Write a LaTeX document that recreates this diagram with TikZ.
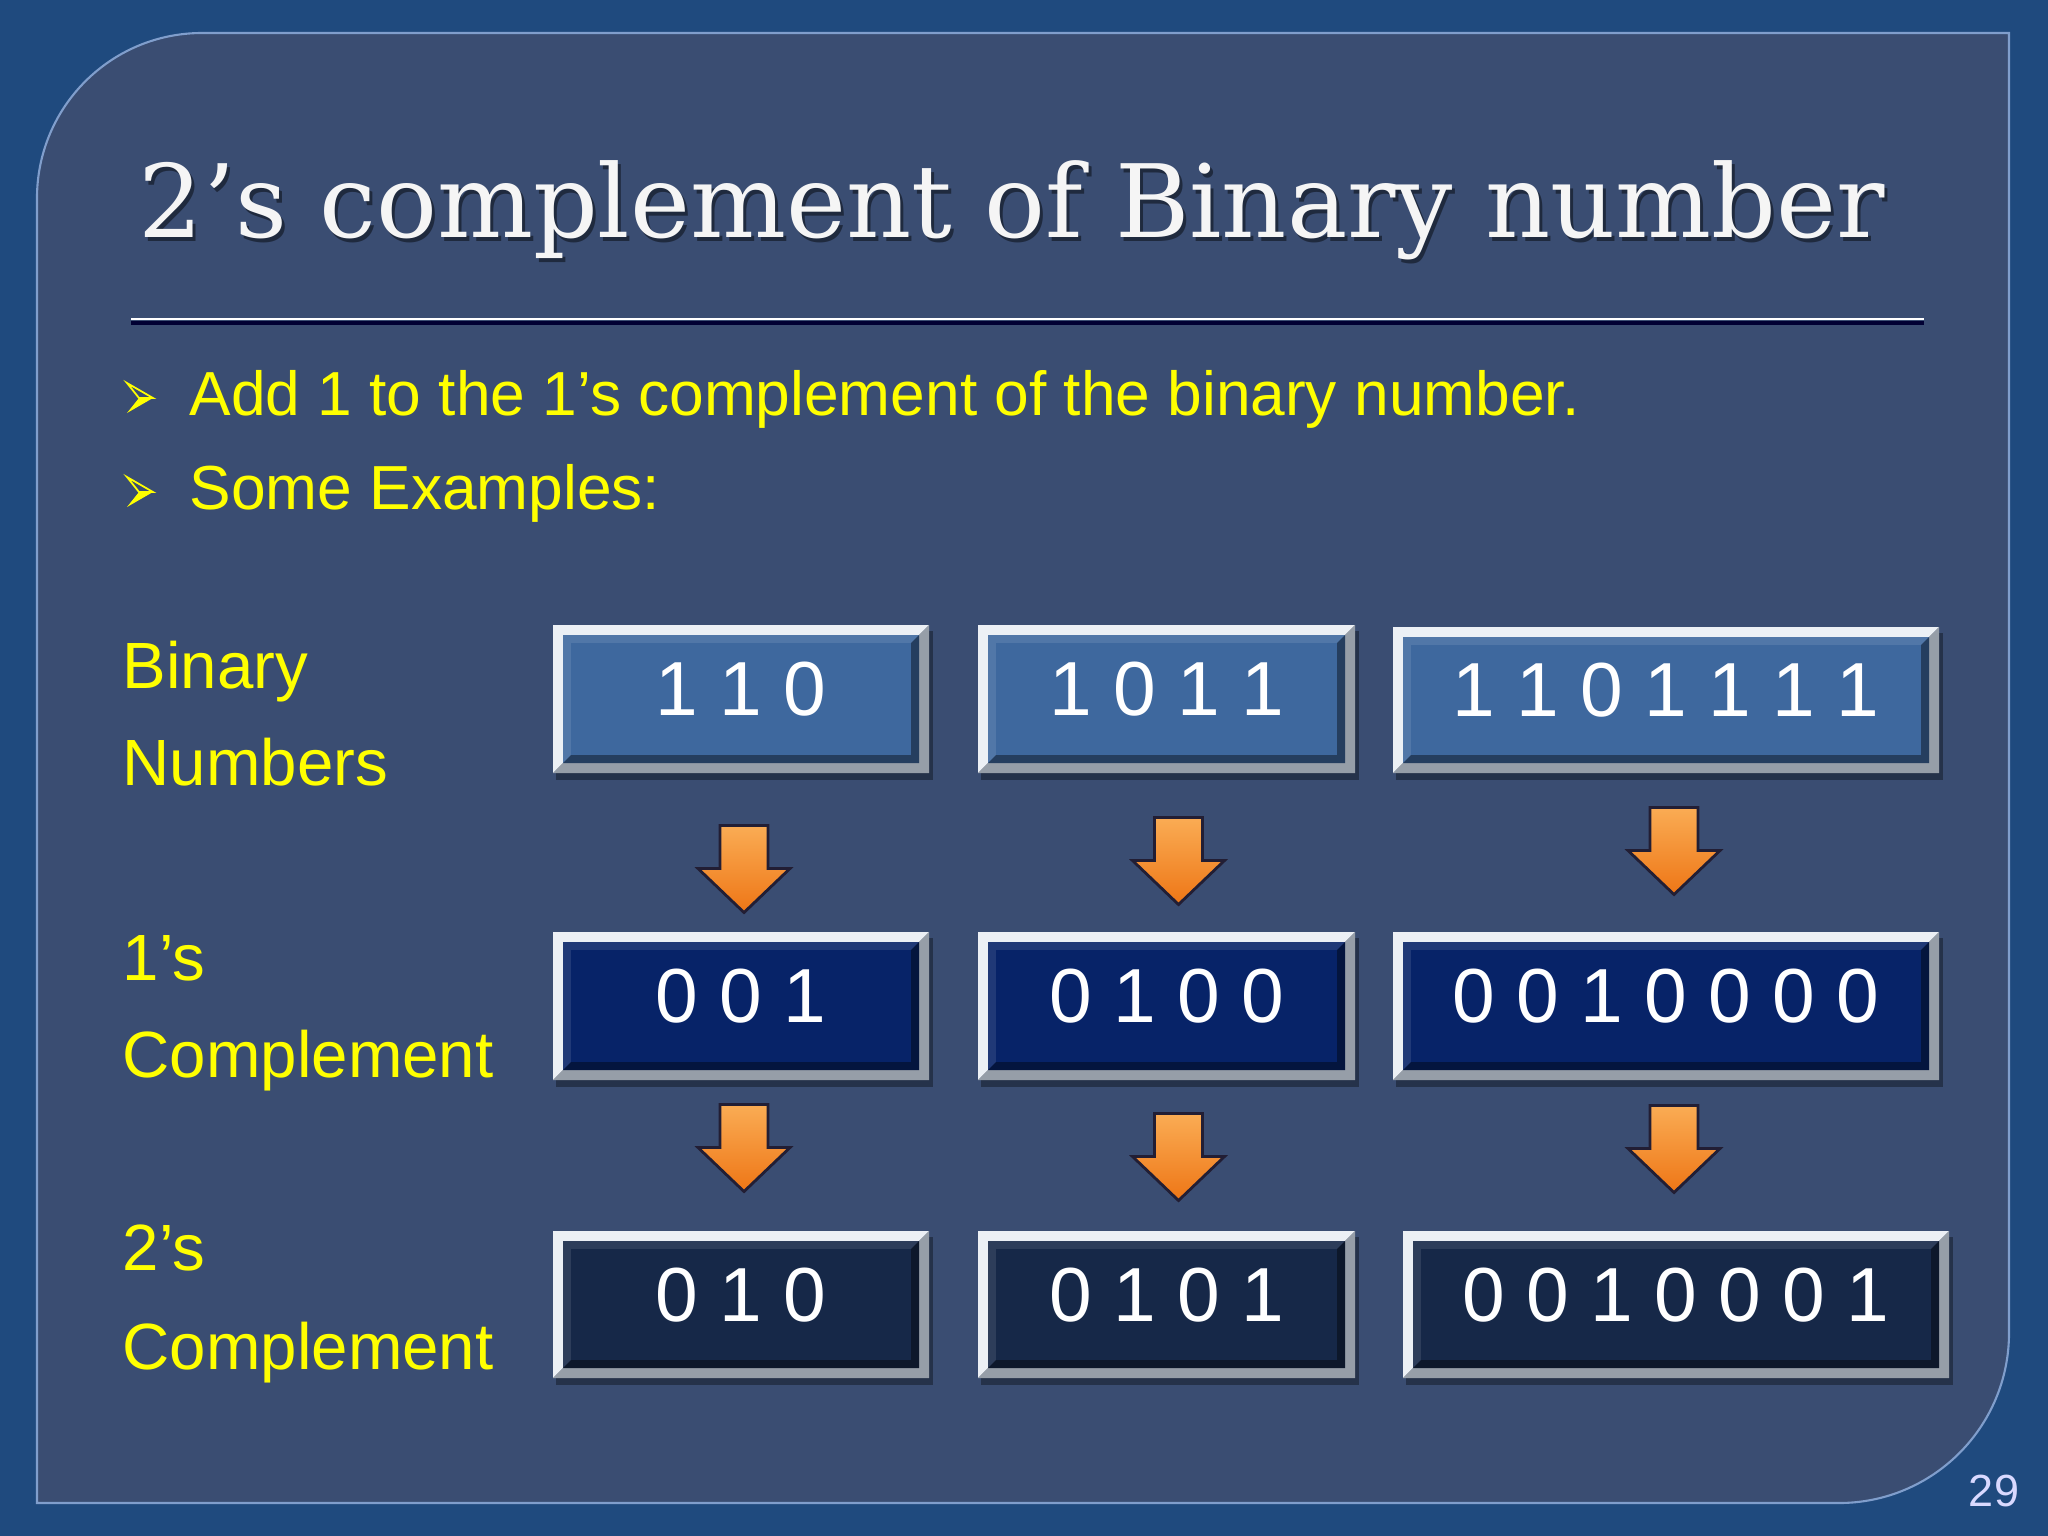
\documentclass[tikz,border=0pt]{standalone}
\usepackage{fontspec}
\setmainfont{Liberation Sans}
\newfontfamily\titlefont{DejaVu Serif}
\usetikzlibrary{calc}

\definecolor{slideblue}{RGB}{31,74,126}
\definecolor{panelblue}{RGB}{58,77,114}
\definecolor{panelline}{RGB}{128,158,204}
\definecolor{rowone}{RGB}{62,104,158}
\definecolor{rowtwo}{RGB}{7,35,104}
\definecolor{rowthree}{RGB}{22,40,72}
\definecolor{framelight}{RGB}{236,240,245}
\definecolor{framedark}{RGB}{150,158,168}
\definecolor{arrowtop}{RGB}{250,172,84}
\definecolor{arrowbot}{RGB}{238,118,22}
\definecolor{arrowedge}{RGB}{34,30,52}
\definecolor{textyellow}{RGB}{255,255,0}

% bevelled number box: name, x1, y1, x2, y2, fill colour, digits
\newcommand{\bitbox}[7]{%
  \fill[black,opacity=.35] ({#2+3},{#3+6}) rectangle ({#4+4},{#5+7});
  \fill[framelight] (#2,#3) -- (#4,#3) -- ({#4-10},{#3+10}) -- ({#2+10},{#3+10}) -- ({#2+10},{#5-10}) -- (#2,#5) -- cycle;
  \fill[framedark] (#4,#3) -- (#4,#5) -- (#2,#5) -- ({#2+10},{#5-10}) -- ({#4-10},{#5-10}) -- ({#4-10},{#3+10}) -- cycle;
  \fill[#6!90!white] ({#2+10},{#3+10}) rectangle ({#4-10},{#5-10});
  \fill[#6!60!black] ({#4-10},{#3+10}) -- ({#4-10},{#5-10}) -- ({#2+10},{#5-10}) -- ({#2+18},{#5-18}) -- ({#4-18},{#5-18}) -- ({#4-18},{#3+18}) -- cycle;
  \fill[#6] ({#2+18},{#3+18}) rectangle ({#4-18},{#5-18});
  \node[bits,minimum width={(#4-#2)*0.01cm},minimum height={(#5-#3)*0.01cm}] (#1) at ({(#2+#4)/2},{(#3+#5)/2}) {#7};
}

\begin{document}
\begin{tikzpicture}[x=0.01cm,y=-0.01cm,
    bits/.style={inner sep=0pt,text=white,text depth=0.2cm,
      font=\fontsize{21.8pt}{26pt}\selectfont},
    bullettext/.style={anchor=base west,inner sep=0pt,text=textyellow,
      font=\fontsize{17.7pt}{21pt}\selectfont},
    rowlabel/.style={anchor=base west,inner sep=0pt,text=textyellow,
      font=\fontsize{18.6pt}{22pt}\selectfont},
    blockarrow/.pic={
      \shade[draw=arrowedge,line width=0.8pt,line join=miter,top color=arrowtop,bottom color=arrowbot]
        (-24,-43) -- (24,-43) -- (24,0) -- (46,0) -- (0,44) -- (-46,0) -- (-24,0) -- cycle;
    },
    bulletmark/.pic={
      \draw[textyellow,line width=0.5pt,line join=miter] (-12,-15) -- (14,0) -- (0,0) -- cycle;
      \fill[textyellow] (0,0) -- (14,0) -- (-12,15) -- cycle;
    }]

    % Slide background and panel
    \fill[slideblue] (0,0) rectangle (2048,1536);
    \useasboundingbox (0,0) rectangle (2048,1536);
    \draw[panelline,line width=0.6pt,fill=panelblue] (37,1503) -- (37,198)
      arc[start angle=180,end angle=270,radius=165] -- (2009,33) -- (2009,1333)
      arc[start angle=0,end angle=90,radius=170] -- cycle;

    % Title with its shadow, and the rule under it
    \node[anchor=base west,inner sep=0pt,text=black,opacity=.45,font=\titlefont\fontsize{28.8pt}{34pt}\selectfont]
      (titleshadow) at (141,241) {2’s complement of Binary number};
    \node[anchor=base west,inner sep=0pt,text=white!96!black,font=\titlefont\fontsize{28.8pt}{34pt}\selectfont]
      (title) at (138,237) {2’s complement of Binary number};
    \draw[white,line width=0.6pt] (131,319) -- (1924,319);
    \draw[black!80!blue,line width=1pt] (131,323) -- (1924,323);

    % Bullets
    \pic at (139,398) {bulletmark};
    \pic at (139,492) {bulletmark};
    \node[bullettext] (addone) at (189,415) {Add 1 to the 1’s complement of the binary number.};
    \node[bullettext] (examples) at (189,509) {Some Examples:};

    % Row labels
    \node[rowlabel] (binlab) at (122,688) {Binary};
    \node[rowlabel] (binlabb) at (122,785) {Numbers};
    \node[rowlabel] (onelab) at (122,980) {1’s};
    \node[rowlabel] (onelabb) at (122,1077) {Complement};
    \node[rowlabel] (twolab) at (122,1270) {2’s};
    \node[rowlabel] (twolabb) at (122,1369) {Complement};

    % Boxes
    \bitbox{b1}{553}{625}{929}{773}{rowone}{1 1 0}
    \bitbox{b2}{978}{625}{1355}{773}{rowone}{1 0 1 1}
    \bitbox{b3}{1393}{627}{1939}{773}{rowone}{1 1 0 1 1 1 1}
    \bitbox{o1}{553}{932}{929}{1080}{rowtwo}{0 0 1}
    \bitbox{o2}{978}{932}{1355}{1080}{rowtwo}{0 1 0 0}
    \bitbox{o3}{1393}{932}{1939}{1080}{rowtwo}{0 0 1 0 0 0 0}
    \bitbox{t1}{553}{1231}{929}{1378}{rowthree}{0 1 0}
    \bitbox{t2}{978}{1231}{1355}{1378}{rowthree}{0 1 0 1}
    \bitbox{t3}{1403}{1231}{1949}{1378}{rowthree}{0 0 1 0 0 0 1}

    % Arrows between the rows
    \foreach \a/\b/\dx/\dy in {b1/o1/3/16,b2/o2/12/8,b3/o3/8/-2,o1/t1/3/-8,o2/t2/12/1,o3/t3/3/-7}
      \pic at ($($(\a.south)!.5!(\b.north)$)+(\dx,\dy)$) {blockarrow};

    % Page number
    \node[anchor=base,inner sep=0pt,text=white!85!blue,font=\fontsize{12.8pt}{15pt}\selectfont]
      (pagenum) at (1994,1506) {29};
\end{tikzpicture}
\end{document}
